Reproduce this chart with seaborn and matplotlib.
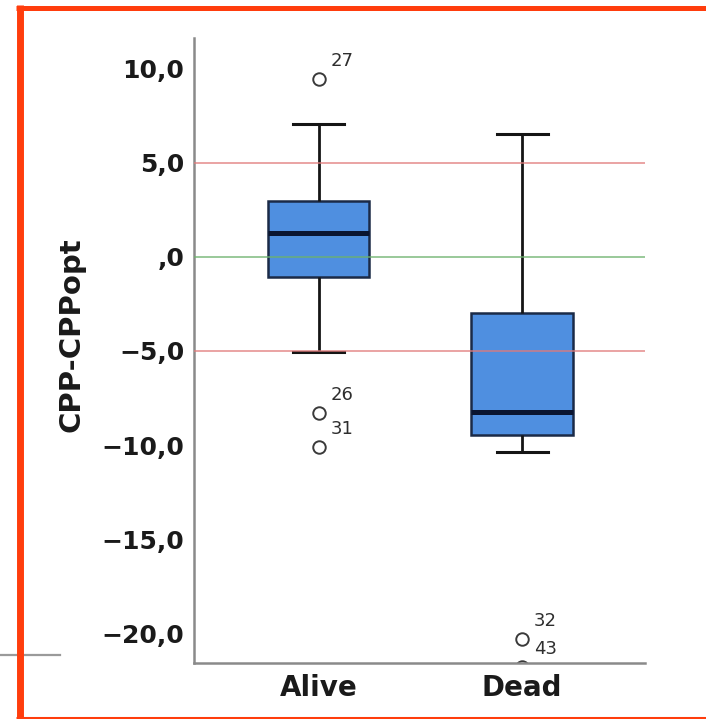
import numpy as np
import pandas as pd
import seaborn as sns
import matplotlib.pyplot as plt
from matplotlib.lines import Line2D

# Outcome groups and CPP - CPPopt values per group
groups = ["Alive", "Dead"]

alive_values = [-5.06, -1.07, -0.2, 0.6, 1.27, 2.0, 2.6, 2.99, 4.8, 7.07]
alive_outliers = [9.46, -8.29, -10.13]
alive_outlier_cases = ["27", "26", "31"]

dead_values = [-10.39, -9.49, -9.2, -8.8, -8.23, -6.5, -4.8, -3.0, 0.5, 3.8, 6.54]
dead_outliers = [-20.34, -21.8]
dead_outlier_cases = ["32", "43"]

y_ticks = [10, 5, 0, -5, -10, -15, -20]
y_tick_labels = ["10,0", "5,0", ",0", "\u22125,0", "\u221210,0", "\u221215,0", "\u221220,0"]

ref_levels = [5, 0, -5]
ref_colors = ["#e07a7a", "#6cb26c", "#e07a7a"]

# long-format table for seaborn
df = pd.DataFrame({
    "outcome": ["Alive"] * (len(alive_values) + len(alive_outliers))
               + ["Dead"] * (len(dead_values) + len(dead_outliers)),
    "value": alive_values + alive_outliers + dead_values + dead_outliers,
})

W, H = 706, 719
fig = plt.figure(figsize=(W / 100, H / 100), dpi=100)
fig.patch.set_facecolor("white")

ax_left, ax_right, ax_top, ax_bottom = 194, 645, 38, 663
ax = fig.add_axes([ax_left / W, 1 - ax_bottom / H,
                   (ax_right - ax_left) / W, (ax_bottom - ax_top) / H])

sns.boxplot(
    data=df, x="outcome", y="value", order=groups, ax=ax,
    width=0.5, color="#4f8fe0", saturation=1,
    boxprops=dict(edgecolor="#1b2a47", linewidth=1.8),
    medianprops=dict(color="#0a1530", linewidth=3.6),
    whiskerprops=dict(color="#151515", linewidth=2.0),
    capprops=dict(color="#151515", linewidth=2.2),
    flierprops=dict(marker="o", markersize=9, markerfacecolor="white",
                    markeredgecolor="#3a3a3a", markeredgewidth=1.4),
)

# reference lines at +/-5 and 0
for lvl, col in zip(ref_levels, ref_colors):
    ax.axhline(lvl, color=col, linewidth=1.3, alpha=0.75, zorder=5)

# case labels next to the outliers
for pos, vals, cases in [(0, alive_outliers, alive_outlier_cases),
                         (1, dead_outliers, dead_outlier_cases)]:
    for v, c in zip(vals, cases):
        ax.annotate(c, xy=(pos, v), xytext=(8.6, 13), textcoords="offset points",
                    ha="left", va="center", fontsize=13, color="#2e2e2e",
                    annotation_clip=False)

ax.set_xlim(-0.612, 1.604)
ax.set_ylim(-21.59, 11.64)

ax.set_yticks(y_ticks)
ax.set_yticklabels(y_tick_labels, fontsize=18, fontweight="bold", color="#1a1a1a")
ax.set_xticks(range(len(groups)))
ax.set_xticklabels(groups, fontsize=20, fontweight="bold", color="#1a1a1a")
ax.tick_params(axis="y", length=0, pad=7)
ax.tick_params(axis="x", length=0, pad=8)

ax.set_xlabel("")
ax.set_ylabel("CPP-CPPopt", fontsize=21, fontweight="bold", color="#1a1a1a")
ax.yaxis.set_label_coords((85 - ax_left) / (ax_right - ax_left),
                          (ax_bottom - 335) / (ax_bottom - ax_top))

for side in ["top", "right"]:
    ax.spines[side].set_visible(False)
for side in ["left", "bottom"]:
    ax.spines[side].set_color("#8a8a8a")
    ax.spines[side].set_linewidth(1.8)
ax.set_facecolor("white")

# short grey rule at the lower left
fig.add_artist(Line2D([0, 60 / W], [1 - 654.5 / H] * 2, transform=fig.transFigure,
                      color="#9a9a9a", linewidth=1.6, zorder=1))

# orange frame, open on the right
frame_col = "#ff3d0d"
fig.add_artist(Line2D([19.5 / W, 19.5 / W], [1 - 5 / H, 1 - 719 / H],
                      transform=fig.transFigure, color=frame_col, linewidth=5.0,
                      solid_capstyle="butt", zorder=10))
fig.add_artist(Line2D([16 / W, 1.0], [1 - 7.5 / H] * 2,
                      transform=fig.transFigure, color=frame_col, linewidth=3.6,
                      solid_capstyle="butt", zorder=10))
fig.add_artist(Line2D([16 / W, 1.0], [1 - 717.5 / H] * 2,
                      transform=fig.transFigure, color=frame_col, linewidth=2.2,
                      solid_capstyle="butt", zorder=10))

fig.savefig("out.png", dpi=100, facecolor="white")
